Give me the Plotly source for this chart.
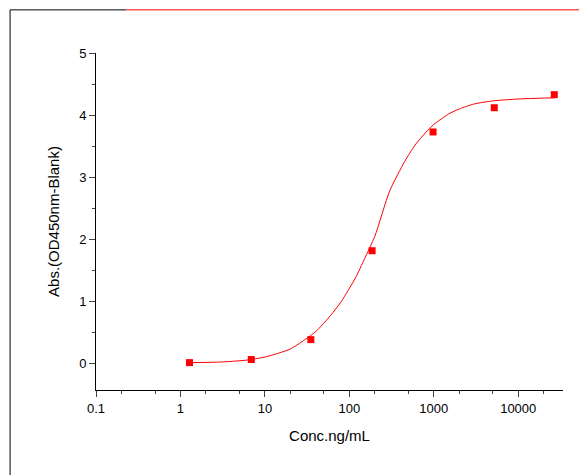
import plotly.graph_objects as go

conc = [1.28, 6.9, 35, 186, 980, 5200, 26700]
absv = [0.02, 0.07, 0.39, 1.82, 3.73, 4.12, 4.33]
fit_x = [1.28, 3, 6, 10, 20, 40, 60, 80, 120, 150, 200, 300, 450, 600, 800, 1000, 1500, 2000, 3000, 5000, 10000, 27000]
fit_y = [0.02, 0.03, 0.06, 0.11, 0.24, 0.52, 0.78, 1.0, 1.4, 1.68, 2.05, 2.78, 3.25, 3.52, 3.72, 3.85, 4.02, 4.1, 4.18, 4.23, 4.26, 4.28]
ytick = [0, 1, 2, 3, 4, 5]
xtick = [0.1, 1, 10, 100, 1000, 10000]

fig = go.Figure()
fig.add_trace(go.Scatter(x=fit_x, y=fit_y, mode="lines", line=dict(color="red", width=1, shape="spline", smoothing=0.6), showlegend=False))
fig.add_trace(go.Scatter(x=conc, y=absv, mode="markers", marker=dict(color="red", symbol="square", size=7), showlegend=False))

fig.update_layout(
    width=587, height=475, paper_bgcolor="white", plot_bgcolor="white",
    margin=dict(l=88, r=32, t=45, b=93, autoexpand=False),
    font=dict(family="Arial, Liberation Sans", color="black", size=13),
    shapes=[
        dict(type="line", xref="paper", yref="paper", x0=-0.184, x1=-0.184, y0=-0.267, y1=1.128, line=dict(color="black", width=1)),
        dict(type="line", xref="paper", yref="paper", x0=-0.184, x1=1.06, y0=-0.267, y1=-0.267, line=dict(color="black", width=1)),
        dict(type="line", xref="paper", yref="paper", x0=-0.184, x1=0.064, y0=1.128, y1=1.128, line=dict(color="black", width=1)),
        dict(type="line", xref="paper", yref="paper", x0=0.064, x1=1.06, y0=1.128, y1=1.128, line=dict(color="red", width=1)),
        dict(type="line", xref="paper", yref="paper", x0=1.06, x1=1.06, y0=-0.267, y1=1.128, line=dict(color="red", width=1)),
    ],
)
fig.update_xaxes(type="log", range=[-1, 4.53], tickvals=xtick, ticktext=["0.1", "1", "10", "100", "1000", "10000"],
                 showgrid=False, zeroline=False, showline=True, linecolor="black", ticks="outside", ticklen=6,
                 minor=dict(ticks="outside", ticklen=3, showgrid=False), automargin=False,
                 title=dict(text="Conc.ng/mL", font=dict(size=15)))
fig.update_yaxes(range=[-0.42, 5], tickvals=ytick, showgrid=False, zeroline=False, showline=True, linecolor="black",
                 ticks="outside", ticklen=6, minor=dict(ticks="outside", ticklen=3, dtick=0.5, showgrid=False), automargin=False,
                 title=dict(text="Abs.(OD450nm-Blank)", font=dict(size=15)))
fig.write_html("out.html")
